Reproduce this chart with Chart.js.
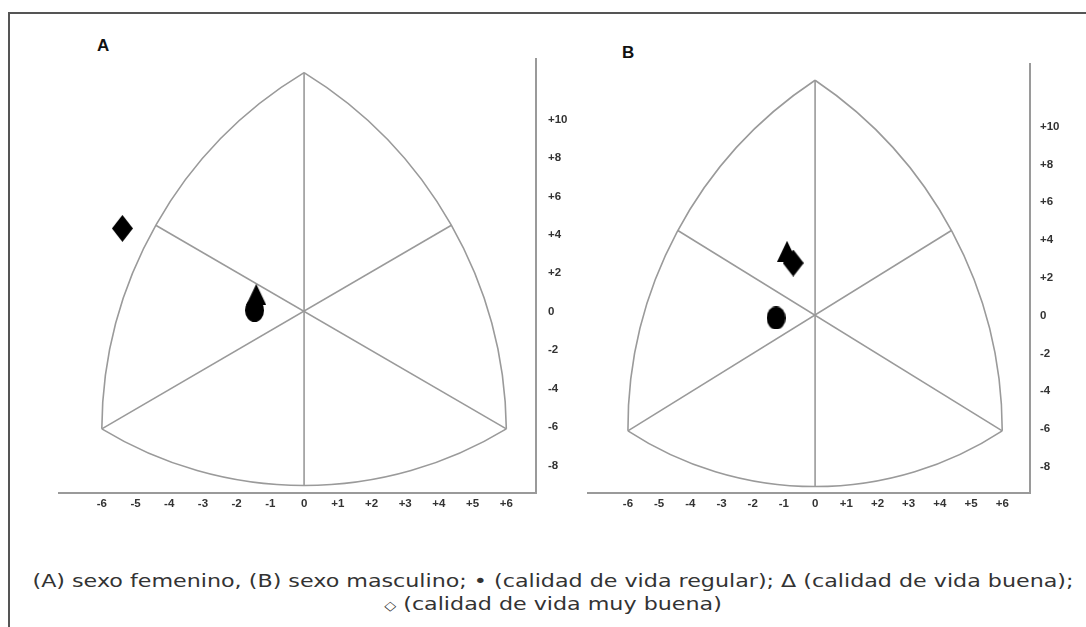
<!DOCTYPE html>
<html>
<head>
<meta charset="utf-8">
<script src="https://cdn.jsdelivr.net/npm/chart.js@4.4.1/dist/chart.umd.min.js"></script>
<style>
  body { margin: 0; background: #fff; width: 1086px; height: 627px; overflow: hidden; position: relative; font-family: "DejaVu Sans", sans-serif; }
  .frame { position: absolute; left: 8px; top: 12px; width: 1100px; height: 640px; border-top: 2px solid #555; border-left: 2px solid #555; }
  canvas { position: absolute; }
  #chartA { left: 40px; top: 40px; }
  #chartB { left: 570px; top: 45px; }
  .panel { position: absolute; font: bold 17px "Liberation Sans", Arial, sans-serif; color: #111; }
  .caption { position: absolute; left: 0; width: 1106px; top: 569px; text-align: center; font-size: 18.5px; line-height: 23px; color: #333; transform: scaleX(1.2); transform-origin: 553px 0; }
  .caption .dia { font-size: 13px; }
</style>
</head>
<body>
<div class="frame"></div>
<div class="panel" style="left:97px; top:36px;">A</div>
<div class="panel" style="left:622px; top:43px;">B</div>
<canvas id="chartA" width="545" height="490"></canvas>
<canvas id="chartB" width="516" height="485"></canvas>
<div class="caption">(A) sexo femenino, (B) sexo masculino; • (calidad de vida regular); Δ (calidad de vida buena);<br><span class="dia">◇</span> (calidad de vida muy buena)</div>
<script>
// marcas de los ejes
const xTicks = [-6, -5, -4, -3, -2, -1, 0, 1, 2, 3, 4, 5, 6];
const yTicks = [10, 8, 6, 4, 2, 0, -2, -4, -6, -8];

// contorno del gráfico: vértices y puntos medios de los arcos
const topVertex = [0, 12.45];
const leftVertex = [-6, -6.1];
const rightVertex = [6, -6.1];
const leftArcMid = [-4.4, 4.5];
const rightArcMid = [4.37, 4.5];
const bottomArcMid = [0, -9.05];

// (A) sexo femenino
const femRegular = [[-1.47, 0.07]];
const femBuena = [[-1.42, 0.9]];
const femMuyBuena = [[-5.39, 4.34]];

// (B) sexo masculino
const mascRegular = [[-1.25, -0.13]];
const mascBuena = [[-0.9, 3.4]];
const mascMuyBuena = [[-0.7, 2.78]];

const lineColor = '#9a9a9a';
const tickFont = { family: "'Liberation Sans', Arial, sans-serif", size: 11.5, weight: 'bold' };

// marcadores negros (dibujados en un canvas pequeño)
function marker(kind, w, h) {
    const c = document.createElement('canvas');
    c.width = w;
    c.height = h;
    const g = c.getContext('2d');
    g.fillStyle = '#000';
    g.beginPath();
    if (kind === 'ellipse') {
        g.ellipse(w / 2, h / 2, w / 2, h / 2, 0, 0, Math.PI * 2);
    } else if (kind === 'triangle') {
        g.moveTo(w / 2, 0); g.lineTo(w, h); g.lineTo(0, h); g.closePath();
    } else {
        g.moveTo(w / 2, 0); g.lineTo(w, h / 2); g.lineTo(w / 2, h); g.lineTo(0, h / 2); g.closePath();
    }
    g.fill();
    return c;
}
const circleMark = marker('ellipse', 19, 23);
const triangleMark = marker('triangle', 20, 21);
const diamondMark = marker('diamond', 21, 27);

// arco de circunferencia que pasa por tres puntos (en píxeles)
function arc3(ctx, a, b, c) {
    const d = 2 * (a.x * (b.y - c.y) + b.x * (c.y - a.y) + c.x * (a.y - b.y));
    const a2 = a.x * a.x + a.y * a.y, b2 = b.x * b.x + b.y * b.y, c2 = c.x * c.x + c.y * c.y;
    const ux = (a2 * (b.y - c.y) + b2 * (c.y - a.y) + c2 * (a.y - b.y)) / d;
    const uy = (a2 * (c.x - b.x) + b2 * (a.x - c.x) + c2 * (b.x - a.x)) / d;
    const r = Math.hypot(a.x - ux, a.y - uy);
    const cross = (b.x - a.x) * (c.y - a.y) - (b.y - a.y) * (c.x - a.x);
    ctx.moveTo(a.x, a.y);
    ctx.arc(ux, uy, r, Math.atan2(a.y - uy, a.x - ux), Math.atan2(c.y - uy, c.x - ux), cross < 0);
}

const outlinePlugin = {
    id: 'outline',
    beforeDatasetsDraw(chart) {
        const { ctx, scales: { x, y } } = chart;
        const p = (v) => ({ x: x.getPixelForValue(v[0]), y: y.getPixelForValue(v[1]) });
        ctx.save();
        ctx.strokeStyle = lineColor;
        ctx.lineWidth = 1.6;
        ctx.beginPath();
        arc3(ctx, p(topVertex), p(leftArcMid), p(leftVertex));
        arc3(ctx, p(leftVertex), p(bottomArcMid), p(rightVertex));
        arc3(ctx, p(rightVertex), p(rightArcMid), p(topVertex));
        ctx.stroke();
        ctx.restore();
    }
};

const toPts = (arr) => arr.map(([x, y]) => ({ x, y }));

function spoke(a, b) {
    return {
        data: toPts([a, b]),
        showLine: true,
        borderColor: lineColor,
        borderWidth: 1.6,
        pointRadius: 0,
        pointHoverRadius: 0
    };
}

function markerSet(arr, style) {
    return { data: toPts(arr), pointStyle: style, pointRadius: 10, pointHoverRadius: 10 };
}

function makeChart(id, regular, buena, muyBuena, range, padding, yPad) {
    return new Chart(document.getElementById(id), {
        type: 'scatter',
        data: {
            datasets: [
                markerSet(muyBuena, diamondMark),
                markerSet(buena, triangleMark),
                markerSet(regular, circleMark),
                spoke(topVertex, bottomArcMid),
                spoke(leftArcMid, rightVertex),
                spoke(rightArcMid, leftVertex)
            ]
        },
        plugins: [outlinePlugin],
        options: {
            responsive: false,
            animation: false,
            events: [],
            layout: { padding: padding },
            plugins: { legend: { display: false }, tooltip: { enabled: false } },
            scales: {
                x: {
                    type: 'linear',
                    position: 'bottom',
                    min: range[0], max: range[1],
                    afterBuildTicks: (s) => { s.ticks = xTicks.map(v => ({ value: v })); },
                    afterFit: (s) => { s.height = 24; },
                    grid: { drawOnChartArea: false, drawTicks: false },
                    border: { color: lineColor, width: 2 },
                    ticks: {
                        autoSkip: false, maxRotation: 0, padding: 4,
                        color: '#333', font: tickFont,
                        callback: (v) => v > 0 ? '+' + v : String(v)
                    }
                },
                y: {
                    type: 'linear',
                    position: 'right',
                    min: range[2], max: range[3],
                    afterBuildTicks: (s) => { s.ticks = yTicks.map(v => ({ value: v })); },
                    afterFit: (s) => { s.width = 36; },
                    grid: { drawOnChartArea: false, drawTicks: false },
                    border: { color: lineColor, width: 2 },
                    ticks: {
                        autoSkip: false, padding: yPad, crossAlign: 'near',
                        color: '#333', font: tickFont,
                        callback: (v) => v > 0 ? '+' + v : String(v)
                    }
                }
            }
        }
    });
}

makeChart('chartA', femRegular, femBuena, femMuyBuena,
    [-7.27, 6.88, -9.44, 13.16], { left: 19, top: 19, right: 13, bottom: 13 }, 12);
makeChart('chartB', mascRegular, mascBuena, mascMuyBuena,
    [-7.28, 6.89, -9.39, 13.31], { left: 18, top: 19, right: 20, bottom: 13 }, 10);
</script>
</body>
</html>
